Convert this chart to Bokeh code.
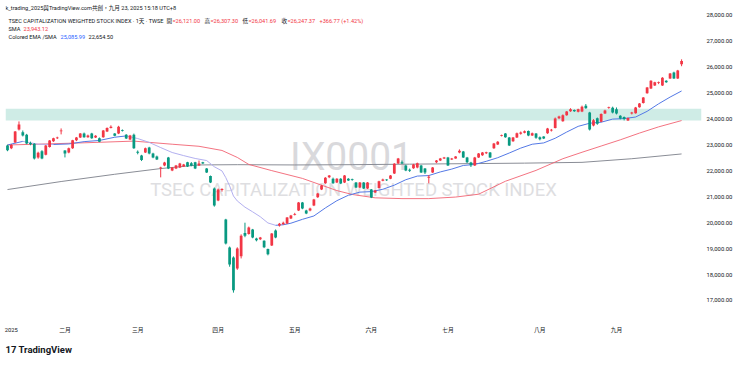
from bokeh.plotting import figure
from bokeh.models import Range1d, FixedTicker, NumeralTickFormatter, Label, BoxAnnotation, ColumnDataSource, Title
from bokeh.embed import file_html
from bokeh.resources import INLINE

# ---------------- data ----------------
opens = [22980, 22870, 23100, 23600, 23495, 23400, 23080, 23050, 22520, 22760,
         22620, 22920, 23140, 23260, 23530, 22790, 22710, 22870, 23180, 23290,
         23440, 23300, 23440, 23290, 23260, 23300, 23520, 23660, 23440, 23440,
         23570, 23400, 23210, 23400, 22740, 22590, 22710, 22900, 22670, 22560,
         22100, 22210, 22520, 22015, 22090, 22130, 22170, 22330, 22300, 22330,
         22210, 22330, 22090, 21800, 21320, 20860, 21260, 20120, 19040, 18660,
         18230, 18700, 19600, 19560, 19740, 19390, 19360, 19300, 18980, 19120,
         19700, 19890, 19940, 19970, 20160, 20300, 20470, 20780, 20470, 20470,
         20660, 20980, 21280, 21520, 21750, 21700, 21550, 21700, 21550, 21700,
         21680, 21550, 21360, 21550, 21320, 21280, 21170, 21340, 21620, 21660,
         21700, 21900, 22290, 22330, 22210, 22040, 22100, 22130, 22210, 22090,
         21740, 21940, 22330, 22400, 22480, 22520, 22440, 22480, 22710, 22750,
         22520, 22320, 22210, 22520, 22600, 22680, 22710, 22870, 23020, 23350,
         23440, 23290, 23140, 23290, 23430, 23470, 23540, 23370, 23440, 23300,
         23330, 23450, 23560, 23660, 24030, 23920, 24150, 24300, 24350, 24280,
         24290, 24520, 24250, 23750, 24030, 23900, 24220, 24430, 24440, 24380,
         24130, 24080, 23950, 24220, 24230, 24460, 24620, 25000, 25180, 25300,
         25400, 25300, 25480, 25570, 25800, 25570, 26121.00]
highs = [23010, 23040, 23540, 23910, 23560, 23430, 23130, 23070, 22740, 22800,
         23000, 23190, 23280, 23320, 23640, 22800, 22900, 23200, 23310, 23460,
         23480, 23400, 23470, 23380, 23290, 23580, 23680, 23760, 23460, 23740,
         23600, 23420, 23390, 23440, 22790, 22620, 22900, 22930, 22700, 22590,
         22160, 22350, 22540, 22150, 22230, 22310, 22270, 22350, 22340, 22350,
         22400, 22350, 22110, 21820, 21360, 21320, 21330, 20150, 19080, 18700,
         19050, 19550, 20000, 19850, 19760, 19420, 19450, 19320, 19000, 19600,
         19740, 19990, 20040, 20220, 20300, 20380, 20800, 20800, 20500, 20580,
         20920, 21150, 21460, 21760, 21840, 21740, 21720, 21720, 21840, 21720,
         21700, 21570, 21570, 21570, 21570, 21300, 21260, 21620, 21700, 21680,
         21840, 22300, 22500, 22400, 22240, 22090, 22270, 22320, 22230, 22110,
         21840, 22150, 22420, 22500, 22540, 22540, 22500, 22570, 22830, 22770,
         22540, 22350, 22540, 22690, 22730, 22740, 22730, 23080, 23150, 23400,
         23460, 23310, 23310, 23480, 23520, 23560, 23560, 23480, 23460, 23330,
         23340, 23660, 23620, 24060, 24130, 24180, 24310, 24420, 24370, 24400,
         24520, 24580, 24280, 24000, 24060, 24220, 24360, 24480, 24480, 24450,
         24150, 24100, 24060, 24280, 24470, 24620, 24850, 25240, 25500, 25440,
         25450, 25620, 25500, 25780, 25830, 25900, 26307.30]
lows = [22760, 22840, 23080, 23560, 23330, 23030, 22990, 22440, 22470, 22450,
        22600, 22900, 23120, 23230, 23410, 22520, 22680, 22850, 23150, 23270,
        23280, 23280, 23240, 23270, 23110, 23280, 23500, 23640, 23340, 23420,
        23520, 23230, 23190, 22850, 22640, 22380, 22690, 22640, 22490, 22420,
        21750, 22180, 22070, 21990, 22070, 22110, 22150, 22150, 22180, 22070,
        22190, 22270, 21920, 21530, 20620, 20830, 21200, 19160, 18300, 17300,
        18180, 18620, 19440, 19540, 19400, 19280, 19330, 19020, 18740, 19100,
        19400, 19850, 19920, 19950, 20140, 20280, 20450, 20520, 20330, 20440,
        20640, 20960, 21260, 21500, 21720, 21500, 21530, 21490, 21530, 21610,
        21620, 21340, 21340, 21300, 21300, 20950, 21150, 21320, 21600, 21610,
        21680, 21880, 22270, 22270, 21990, 21960, 22080, 22100, 21920, 21880,
        21520, 21920, 22300, 22380, 22460, 22190, 22420, 22470, 22680, 22500,
        22300, 22150, 22190, 22500, 22580, 22650, 22500, 22850, 23000, 23330,
        23280, 22960, 23120, 23270, 23400, 23450, 23340, 23350, 23240, 23180,
        23230, 23430, 23520, 23640, 24000, 23900, 24130, 24280, 24280, 24260,
        24270, 24400, 23560, 23720, 23780, 23880, 24200, 24400, 24220, 24180,
        23990, 23950, 23930, 24180, 24210, 24440, 24600, 24980, 25160, 25280,
        25350, 25280, 25400, 25550, 25550, 25550, 26041.69]
closes = [22800, 23000, 23520, 23790, 23365, 23060, 23030, 22480, 22700, 22480,
          22980, 23170, 23260, 23290, 23560, 22670, 22870, 23180, 23290, 23440,
          23300, 23370, 23260, 23360, 23130, 23560, 23660, 23700, 23360, 23700,
          23540, 23250, 23370, 22870, 22700, 22420, 22870, 22670, 22520, 22440,
          22130, 22325, 22090, 22130, 22210, 22290, 22250, 22170, 22200, 22090,
          22290, 22290, 21940, 21550, 20660, 21280, 21300, 19200, 18390, 17390,
          19000, 19500, 19500, 19810, 19430, 19320, 19430, 19050, 18780, 19580,
          19430, 19960, 20000, 20200, 20280, 20330, 20780, 20550, 20360, 20550,
          20900, 21130, 21440, 21740, 21820, 21520, 21700, 21510, 21820, 21630,
          21660, 21360, 21550, 21320, 21550, 20970, 21240, 21600, 21670, 21640,
          21820, 22280, 22480, 22290, 22020, 22010, 22250, 22300, 21940, 21940,
          21770, 22130, 22400, 22480, 22520, 22210, 22480, 22560, 22780, 22520,
          22330, 22220, 22520, 22670, 22710, 22720, 22520, 23060, 23130, 23370,
          23300, 22980, 23290, 23450, 23480, 23530, 23370, 23450, 23280, 23220,
          23250, 23640, 23580, 24020, 24100, 24150, 24290, 24380, 24300, 24380,
          24480, 24420, 23600, 23960, 23820, 24200, 24330, 24450, 24250, 24220,
          24020, 24000, 24040, 24250, 24450, 24600, 24830, 25220, 25480, 25420,
          25430, 25600, 25420, 25760, 25570, 25880, 26247.37]

# indicator lines, values at these bar positions
ema_idx = [0, 4, 8, 12, 16, 20, 24, 28, 31, 34, 37, 40, 43, 46, 49, 52, 54, 56, 57, 58,
           59, 60, 62, 64, 66, 68, 70, 72, 74, 77, 80, 83, 86, 89, 92, 95, 98, 101, 104,
           107, 110, 113, 116, 119, 122, 125, 128, 131, 134, 137, 140, 143, 146, 149,
           152, 155, 158, 161, 164, 167, 170, 173, 176]
ema_val = [23000, 23140, 23030, 23020, 23040, 23130, 23175, 23300, 23350, 23250, 23100,
           22900, 22710, 22590, 22480, 22400, 22160, 22000, 21740, 21420, 21030, 20840,
           20600, 20420, 20230, 19990, 19900, 19920, 19980, 20130, 20260, 20570, 20850,
           21060, 21180, 21200, 21290, 21450, 21660, 21800, 21820, 21960, 22070, 22210,
           22250, 22370, 22510, 22690, 22880, 23030, 23080, 23260, 23500, 23720, 23840,
           23880, 24000, 24020, 24080, 24300, 24590, 24850, 25085.99]
sma_idx = [0, 10, 20, 33, 43, 50, 56, 60, 63, 69, 77, 86, 90, 96, 103, 110, 117, 123,
           130, 138, 145, 150, 155, 160, 165, 170, 176]
sma_val = [23000, 23040, 23085, 23150, 23030, 22950, 22790, 22520, 22250, 22010, 21710,
           21240, 21090, 20960, 20930, 20930, 20990, 21100, 21600, 22020, 22470, 22720,
           22960, 23200, 23460, 23700, 23943.12]
sma200_idx = [0, 14, 28, 40, 50, 60, 75, 90, 105, 120, 135, 150, 163, 176]
sma200_val = [21280, 21590, 21870, 22090, 22230, 22240, 22230, 22240, 22260, 22280, 22300,
              22330, 22470, 22654.50]

zone_low, zone_high = 23950, 24400

month_ticks = [1, 15, 34, 55, 75, 95, 115, 139, 159]
month_labels = ["2025", "二月", "三月", "四月", "五月", "六月", "七月", "八月", "九月"]
price_ticks = [17000, 18000, 19000, 20000, 21000, 22000, 23000, 24000, 25000, 26000, 27000, 28000]

# ---------------- styling ----------------
RED, GREEN = "#f23645", "#089981"
INK = "#131722"
FONT = "Roboto, 'Noto Sans CJK TC'"
FW, FH = 696, 320

p = figure(frame_width=FW, frame_height=FH,
           x_range=Range1d(-0.52, 181.2), y_range=Range1d(16224, 28579),
           y_axis_location="right", output_backend="svg", toolbar_location=None,
           min_border_left=5, min_border_top=0, min_border_right=39, min_border_bottom=47,
           background_fill_color="white", border_fill_color="white", outline_line_color=None)
p.grid.visible = False

ya = p.yaxis[0]
ya.ticker = FixedTicker(ticks=price_ticks)
ya.formatter = NumeralTickFormatter(format="0,0.00")
ya.axis_line_color = None
ya.major_tick_line_color = None
ya.minor_tick_line_color = None
ya.major_tick_out = 0
ya.major_label_standoff = 5
ya.major_label_text_font_size = "5.9px"
ya.major_label_text_color = INK
ya.major_label_text_font = FONT

xa = p.xaxis[0]
xa.ticker = FixedTicker(ticks=month_ticks)
xa.major_label_overrides = {t: l for t, l in zip(month_ticks, month_labels)}
xa.axis_line_color = None
xa.major_tick_line_color = None
xa.minor_tick_line_color = None
xa.major_tick_out = 0
xa.major_label_standoff = 6
xa.major_label_text_font_size = "5.8px"
xa.major_label_text_color = INK
xa.major_label_text_font = FONT

# logo line under the time axis
p.add_layout(Title(text="17 TradingView", align="left", text_font_size="9.5px",
                   text_font_style="bold", text_font="Roboto", text_color=INK,
                   standoff=12), "below")

# zone
p.add_layout(BoxAnnotation(bottom=zone_low, top=zone_high, fill_color="#cfece6",
                           fill_alpha=1.0, line_color=None, level="underlay"))


def put(text, fx, fy, color=INK, size="5.6px", style="normal", align="left", font=FONT, level="overlay"):
    # fx, fy: pixels from the frame's left / top edge
    p.add_layout(Label(x=fx, y=FH - fy, x_units="screen", y_units="screen", text=text,
                       text_color=color, text_font_size=size, text_font_style=style,
                       text_align=align, text_baseline="middle", text_font=font, level=level))


# watermarks
put("IX0001", 346, 156, color="#d9d9dc", size="39px", align="center", font="Roboto", level="underlay")
put("TSEC CAPITALIZATION WEIGHTED STOCK INDEX", 348, 189, color="#dedee1", size="18.5px",
    align="center", font="Roboto", level="underlay")

# indicator lines
p.line(sma200_idx, sma200_val, line_color="#8a8d96", line_width=1)
p.line(sma_idx, sma_val, line_color="#f26473", line_width=1, line_alpha=0.9)
ecol = ["#5479e6" if b >= a else "#b3b0f0" for a, b in zip(ema_val[:-1], ema_val[1:])]
p.segment(ema_idx[:-1], ema_val[:-1], ema_idx[1:], ema_val[1:], line_color=ecol, line_width=1)

# candles
idx = list(range(len(closes)))
colors = [RED if c >= o else GREEN for o, c in zip(opens, closes)]
tops = [max(o, c) for o, c in zip(opens, closes)]
bots = [min(o, c) for o, c in zip(opens, closes)]
tops = [t if t - b >= 30 else b + 30 for t, b in zip(tops, bots)]
src = ColumnDataSource(dict(x=idx, h=highs, l=lows, top=tops, bottom=bots, color=colors))
p.segment("x", "h", "x", "l", line_color="color", line_width=1, source=src)
p.vbar(x="x", width=0.72, top="top", bottom="bottom", fill_color="color", line_color=None, source=src)

# header
put("k_trading_2025與TradingView.com共創，九月 23, 2025 15:18 UTC+8", 0, 7)
put("TSEC CAPITALIZATION WEIGHTED STOCK INDEX · 1天 · TWSE", 3, 20)
for lab, val, x in [("開", "=26,121.00", 161), ("高", "=26,307.30", 199),
                    ("低", "=26,041.69", 237), ("收", "=26,247.37", 276)]:
    put(lab, x, 20)
    put(val, x + 6, 20, color=RED)
put("+366.77 (+1.42%)", 314, 20, color=RED)
put("SMA", 3, 28)
put("23,943.12", 18, 28, color=RED)
put("Colored EMA /SMA", 3, 36)
put("25,085.99", 55, 36, color="#2962ff")
put("22,654.50", 83, 36, color=INK)

with open("out.html", "w", encoding="utf-8") as f:
    f.write(file_html(p, INLINE))
